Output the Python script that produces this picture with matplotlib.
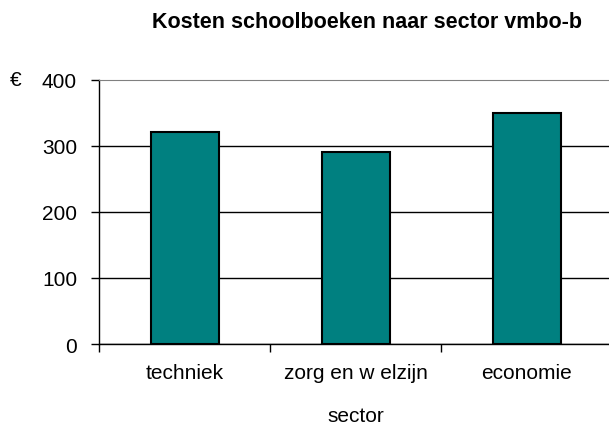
import matplotlib
matplotlib.use("Agg")
import matplotlib.pyplot as plt
import numpy as np

categories = ["techniek", "zorg en w elzijn", "economie"]
values = [321, 291, 349]
yticks = [0, 100, 200, 300, 400]
title = "Kosten schoolboeken naar sector vmbo-b"
xlabel = "sector"
unit = "€"

plt.rcParams['font.family'] = ['Liberation Sans', 'DejaVu Sans']

fig = plt.figure(figsize=(6.09, 4.31), dpi=100)
ax = fig.add_axes([0.163, 0.1995, 0.8425, 0.6133])

x = np.arange(len(categories))
ax.bar(x, values, width=0.4, color="#008080", edgecolor="black", linewidth=1.5, zorder=3)

ax.set_xlim(-0.5, len(categories) - 0.5)
ax.set_ylim(yticks[0], yticks[-1])
ax.set_yticks(yticks)
ax.set_yticklabels([str(t) for t in yticks], fontsize=15)
ax.tick_params(axis='y', direction='out', length=6, width=1, pad=10, color='black')

ax.set_xticks(x)
ax.set_xticklabels(categories, fontsize=15)
ax.tick_params(axis='x', which='major', length=0, pad=14)
ax.set_xticks(np.arange(-0.5, len(categories) + 0.5, 1), minor=True)
ax.tick_params(axis='x', which='minor', direction='out', length=6, width=1, color='black')

ax.yaxis.grid(True, color='black', linewidth=1)
ax.set_axisbelow(True)
ax.get_ygridlines()[-1].set_visible(False)

ax.spines['right'].set_visible(False)
ax.spines['top'].set_color('#808080')
ax.spines['left'].set_linewidth(1)
ax.spines['bottom'].set_linewidth(1)

ax.set_xlabel(xlabel, fontsize=15, labelpad=17)
fig.text(367 / 609, 1 - 22 / 431, title, fontsize=15.5, fontweight='bold',
         ha='center', va='center')
fig.text(16 / 609, 1 - 81 / 431, unit, fontsize=15, ha='center', va='center')

fig.savefig("out.png", dpi=100)
